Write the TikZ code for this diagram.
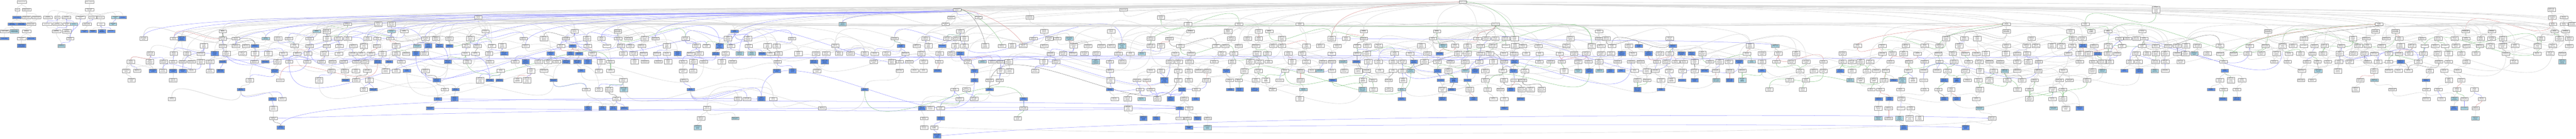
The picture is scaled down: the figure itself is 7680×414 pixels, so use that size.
\documentclass[tikz,border=0pt]{standalone}
\usepackage{fontspec}
\setmainfont{Liberation Sans}
\usetikzlibrary{arrows.meta}
\pgfdeclarelayer{bg}
\pgfsetlayers{bg,main}
\definecolor{cbl}{HTML}{6495ED}
\definecolor{lbl}{HTML}{ADD8E6}
\definecolor{bord}{HTML}{9A9A9A}
\definecolor{egc}{HTML}{DCDCDC}
\definecolor{ebc}{HTML}{9A9AFF}
\definecolor{eGc}{HTML}{8CC88C}
\definecolor{erc}{HTML}{E09A9A}
\definecolor{ekc}{HTML}{8A8A8A}
\tikzset{
 boxw/.style={draw=bord,fill=white,line width=0.22pt,inner sep=0.35pt,text width=0.2cm,align=center,minimum height=0.085cm,font=\fontsize{0.75}{0.85}\selectfont},
 boxb/.style={boxw,fill=cbl},
 boxl/.style={boxw,fill=lbl},
 boxW/.style={boxw,text width=0.24cm},
 boxWb/.style={boxW,fill=cbl},
 boxWl/.style={boxW,fill=lbl},
 edg/.style={draw=egc,line width=0.3pt,-{Stealth[length=0.9pt,width=0.8pt]}},
 edb/.style={draw=ebc,line width=0.22pt,-{Stealth[length=0.9pt,width=0.8pt]}},
 edG/.style={draw=eGc,line width=0.22pt,-{Stealth[length=0.9pt,width=0.8pt]}},
 edr/.style={draw=erc,line width=0.22pt,-{Stealth[length=0.9pt,width=0.8pt]}},
 edk/.style={draw=ekc,line width=0.22pt,-{Stealth[length=0.9pt,width=0.8pt]}},
}
\newcommand\imod[2]{\the\numexpr(#1)-((2*(#1)-(#2)+1)/(2*(#2)))*(#2)\relax}
\newcommand\pickA[1]{\ifcase\numexpr#1\relax edg\or edg\or edg\or edg\or edg\or edg\or edg\or edg\or edg\or edg\or edg\or edg\or edb\or edb\or edb\or edb\or edb\or edG\or edr\or edk\fi}
\newcommand\pickB[1]{\ifcase\numexpr#1\relax edg\or edg\or edg\or edg\or edg\or edg\or edg\or edg\or edg\or edg\or edg\or edg\or edg\or edg\or edG\or edG\or edr\or edk\or edb\or edg\fi}
\newcommand\lab[1]{\ifcase\numexpr#1\relax
regulation of cell migration\or
positive regulation of cell population proliferation\or
negative regulation of signal transduction\or
cell differentiation\or
tissue morphogenesis\or
regulation of developmental process\or
embryonic organ development\or
positive regulation of gene expression\or
regulation of cellular component organization\or
Wnt signaling pathway\or
cell-cell signaling\or
regulation of protein kinase activity\or
neuron projection development\or
epithelial tube morphogenesis\or
regulation of response to stimulus\or
positive regulation of transcription by RNA polymerase II\or
animal organ morphogenesis\or
regulation of cell adhesion\or
response to organic substance\or
non-canonical Wnt signaling pathway\or
regulation of macromolecule metabolic process\or
cell morphogenesis\or
positive regulation of cell communication\or
regulation of inflammatory response\or
tube development\or
negative regulation of cell population proliferation\or
regulation of phosphorylation\or
positive regulation of protein metabolic process\or
regulation of nervous system development\or
skeletal system development\or
cellular response to chemical stimulus\or
regulation of cell cycle\or
planar cell polarity pathway involved in neural tube closure\or
positive regulation of intracellular signal transduction\or
regulation of cytokine production\or
mesenchymal cell differentiation\or
regulation of anatomical structure morphogenesis\or
establishment of planar polarity\or
regulation of ossification\or
positive regulation of protein phosphorylation\or
regulation of primary metabolic process\or
cell surface receptor signaling pathway\or
regulation of hormone secretion\or
regulation of synapse organization\or
axon guidance\or
gland development\or
regulation of biosynthetic process\or
positive regulation of catalytic activity\or
lung development\or
cardiac muscle tissue development\or
negative regulation of apoptotic process\or
regulation of transport\or
heart morphogenesis\or
positive regulation of locomotion\or
response to wounding\or
regulation of epithelial cell proliferation\or
regulation of GTPase activity\or
hindbrain development\or
regulation of angiogenesis\or
cellular component assembly\fi}
\newcommand\setlab[2]{\expandafter\def\csname lbl#1\endcsname{#2}}
\setlab{4361-6}{biological\_process}
\setlab{2853-29}{developmental process}
\setlab{3350-29}{biological phase}
\setlab{6428-29}{biological process involved in interspecies interaction between organisms}
\setlab{1426-52}{anatomical structure development}
\setlab{3461-52}{multicellular organismal process}
\setlab{2836-52}{developmental maturation}
\setlab{2917-52}{developmental growth}
\setlab{4459-72}{cellular process}
\setlab{3875-72}{biological regulation}
\setlab{5982-72}{response to stimulus}
\setlab{7093-72}{metabolic process}
\setlab{2512-72}{multicellular organism development}
\makeatletter
\def\fn@scan#1/#2,{\ifnum#1<0 \expandafter\@gobble\else\expandafter\@firstofone\fi{\fn@test{#1}\fn@scan}}
\def\fn@test#1{\edef\dd{\the\numexpr#1-(\fn@target)\relax}\ifnum\dd<0 \edef\dd{\the\numexpr-\dd\relax}\fi
 \ifnum\dd<\bestd\relax\edef\best{\the\numexpr#1\relax}\edef\bestd{\dd}\fi}
\newcommand\findnear[2]{\edef\fn@target{#1}\def\best{-1}\def\bestd{9999}\expandafter\fn@scan#2,-1/x,}
\makeatother
\newcommand\placerow[2]{\foreach \x/\c in #2 {%
  \edef\k{\imod{\x*3+#1}{60}}%
  \node[box\c] (n\x-#1) at (\x,#1) {\ifcsname lbl\x-#1\endcsname\csname lbl\x-#1\endcsname\else\lab{\k}\fi};}}
\newcommand\linkrow[6]{\foreach \x/\c in #2 {%
  \findnear{\x}{#4}%
  \ifnum\bestd<250 \edef\pp{#3}\else
    \findnear{\x}{#6}%
    \ifnum\bestd<400 \edef\pp{#5}\else\def\pp{}\fi
  \fi
  \ifx\pp\empty\else
    \edef\ek{\imod{\x*7+#1*3}{20}}%
    \edef\es{\ifnum\x<3500 \pickA{\ek}\else\pickB{\ek}\fi}%
    \draw[\es] (n\x-#1.north) to[out=90,in=270] (n\best-\pp.south);
  \fi}}
\newcommand\linkshift[7]{\foreach \x/\c in #2 {%
  \ifnum\imod{\x*13}{#5}=0
    \findnear{\x+\imod{\x*37}{#6}-#6/2}{#4}%
    \ifnum\bestd<#7
      \edef\ek{\imod{\x*3+#1*7}{20}}%
      \edef\es{\ifnum\x<3500 \pickA{\ek}\else\pickB{\ek}\fi}%
      \draw[\es] (n\x-#1.north) to[out=90,in=270] (n\best-#3.south);
    \fi
  \fi}}
\def\fanstyle{edg}
\newcommand\fan[8]{\foreach \x/\c in #2 {%
  \ifnum\imod{\x}{#5}=#6 \ifnum\x>#7 \ifnum\x<#8
    \pgfmathsetmacro\dx{(\x-#4)*0.55}%
    \pgfmathsetmacro\hh{-(#1-6)*0.7}%
    \draw[\fanstyle] (n\x-#1.north) .. controls +(0,\hh) and +(\dx,14) .. (#3.south);
  \fi\fi\fi}}
% ---------------- rows ----------------
\def\RA{4361/w}
\def\RB{2853/w,3350/w,6428/w,7607/w}
\def\RC{1426/w,2836/w,2917/w,3070/w,3461/w,7609/w,7644/w}
\def\RD{1036/w,1128/w,1167/w,2512/l,2819/w,3542/w,3694/w,3875/w,4459/w,5982/w,6217/w,7093/w,7611/w,7644/w,7669/w}
\def\RE{664/w,944/l,974/w,1167/l,1205/w,1447/w,1713/w,1842/w,2190/b,2863/w,3113/w,3313/w,3549/w,3661/w,3753/w,3784/w,%
4066/w,4284/w,4767/w,5982/w,6173/w,6235/w,6285/w,6387/w,6762/w,7082/w,7142/w,7351/w,7429/w,7616/w,7649/w}
\def\RF{428/w,519/w,542/b,664/w,703/w,792/l,829/w,861/w,923/w,975/w,1009/w,1036/w,1096/w,1125/w,1163/w,1268/w,1300/w,%
1340/w,1402/w,1561/w,1622/w,1687/w,1750/w,1793/w,1843/w,1874/w,1922/w,1954/w,2044/w,2170/w,2230/w,2361/w,2667/w,2760/w,%
2824/w,2851/w,2875/w,3081/w,3128/w,3152/w,3188/l,3431/w,3486/w,3671/w,3720/w,3753/w,3822/w,3970/w,4013/w,4066/w,4272/w,%
4405/w,4431/w,4458/w,4489/w,4515/w,4682/w,4767/w,4789/w,4978/w,5802/w,5856/w,5895/w,6057/w,6180/w,6208/w,6319/w,6343/w,%
6369/w,6392/w,6869/w,7015/w,7054/w,7114/w,7153/w,7221/w,7269/w,7318/w,7352/w,7396/w,7428/w,7462/w,7576/w,7630/w,7660/w}
\def\RG{608/w,664/w,703/w,733/w,760/b,878/w,923/w,974/w,1012/w,1053/w,1085/w,1123/w,1181/w,1244/l,1277/b,1310/b,1340/b,%
1390/w,1423/w,1466/w,1497/w,1567/w,1672/w,1707/b,1752/w,1809/w,1851/w,1879/w,1913/w,1988/w,2076/w,2106/w,2145/b,2179/w,%
2232/w,2288/w,2315/w,2490/w,2686/b,2733/w,2768/w,2809/b,2848/w,2875/w,2937/w,2987/w,3017/w,3050/w,3113/w,3201/w,3244/w,%
3284/w,3313/w,3345/l,3431/w,3461/w,3519/w,3626/w,3653/w,3693/w,3744/w,3796/w,3822/w,3895/w,3936/w,3987/w,4046/w,4076/w,%
4110/w,4237/w,4302/l,4338/w,4375/w,4414/w,4451/w,4489/w,4517/w,4540/w,4587/w,4670/w,4745/w,4773/w,4806/w,4856/w,4886/b,%
4987/b,5217/w,5293/l,5538/w,5612/w,5682/w,5738/w,5782/w,5841/w,5982/w,6042/w,6070/w,6117/w,6145/w,6178/w,6210/b,6243/w,%
6285/w,6326/w,6386/w,6427/w,6464/w,6491/w,6517/w,6551/w,6618/w,6707/w,6754/w,6805/w,6836/w,6869/w,6900/w,6931/w,6980/w,%
7031/w,7058/w,7100/w,7157/w,7191/w,7229/w,7260/w,7289/w,7322/w,7353/w,7393/w,7425/w,7461/w,7498/w,7565/w,7610/w,7660/w}
\def\RH{449/w,518/w,558/w,599/w,640/b,675/w,723/w,760/w,800/w,844/w,886/w,918/w,967/w,1010/w,1052/w,1077/w,1106/w,1140/w,%
1181/w,1211/w,1240/b,1265/w,1388/w,1417/w,1458/w,1503/b,1642/b,1701/b,1726/b,1766/w,1858/w,1889/w,1919/w,1959/w,1988/w,%
2020/b,2059/w,2085/w,2134/b,2163/w,2205/l,2241/l,2272/b,2297/w,2321/w,2380/w,2433/w,2463/w,2501/w,2536/w,2578/w,2608/w,%
2643/w,2699/w,2747/w,2801/w,2836/w,2863/b,3132/w,3169/w,3199/w,3233/w,3269/w,3334/w,3370/w,3404/l,3504/w,3551/w,3643/w,%
3678/w,3747/w,3778/w,3841/w,3882/w,3970/w,4046/w,4075/w,4158/w,4204/w,4256/w,4292/b,4347/w,4375/w,4414/w,4442/w,4484/w,%
4514/w,4550/w,4590/w,4650/w,4693/w,4729/w,4773/w,4803/w,4835/b,4868/w,4915/b,4949/w,4978/w,5013/b,5043/b,5075/w,5208/w,%
5253/w,5302/w,5355/w,5493/w,5612/w,5642/w,5675/w,5717/w,5779/w,5822/w,5859/w,5892/w,5920/w,5980/w,6014/w,6043/w,6166/w,%
6200/w,6227/w,6254/b,6285/w,6312/w,6369/w,6401/w,6427/w,6455/w,6491/w,6515/w,6542/l,6581/w,6619/w,6659/w,6701/w,6742/w,%
6787/w,6824/w,6858/w,6894/w,6925/w,6975/w,7016/w,7049/w,7079/w,7122/w,7152/w,7182/w,7225/w,7267/w,7300/w,7338/w,7382/w,%
7471/w,7564/w,7603/w,7639/w}
\def\RI{390/w,447/w,488/w,516/w,544/w,571/w,599/w,626/w,664/b,758/w,791/b,827/w,862/w,916/w,958/w,991/w,1024/w,1063/w,%
1088/w,1126/b,1160/b,1196/w,1335/b,1393/w,1460/w,1536/w,1567/b,1606/w,1634/w,1660/w,1688/b,1721/b,1752/b,1792/w,1820/w,%
1892/w,1923/w,1963/w,1992/w,2036/w,2067/w,2098/w,2152/w,2184/w,2318/w,2426/b,2459/b,2605/w,2659/w,2682/w,2711/w,2754/w,%
2800/w,2885/w,2929/l,2958/w,2983/w,3007/w,3112/w,3148/w,3267/l,3309/w,3346/w,3488/w,3514/w,3546/w,3620/w,3673/w,3727/w,%
3755/w,3782/w,3852/w,3895/w,3944/w,3971/w,4004/l,4044/b,4079/w,4110/w,4153/w,4181/w,4215/b,4247/w,4285/w,4324/w,4368/w,%
4410/w,4452/w,4484/w,4515/b,4589/w,4623/w,4656/w,4705/w,4736/w,4767/w,4823/w,4863/w,4891/w,4940/w,4968/w,4996/w,5020/w,%
5052/w,5098/w,5127/w,5154/w,5185/b,5222/l,5253/w,5296/w,5341/w,5385/w,5436/w,5493/w,5521/w,5547/w,5575/w,5636/w,5691/w,%
5738/w,5782/w,5826/w,5869/w,5901/w,5931/w,5963/w,6014/w,6047/w,6078/w,6200/w,6240/w,6266/w,6290/w,6350/w,6375/w,6426/w,%
6455/w,6501/w,6629/w,6780/w,6820/w,6878/w,6909/w,6940/w,6973/w,7005/w,7058/w,7090/w,7122/w,7157/b,7210/w,7271/w,7300/w,%
7353/w,7495/w,7639/l}
\def\RJ{376/w,409/w,456/b,486/w,516/b,545/b,571/w,626/w,657/b,819/b,988/w,1028/w,1061/w,1095/w,1150/w,1181/w,1213/b,%
1268/w,1493/w,1583/w,1622/w,1733/b,1785/w,1820/w,2036/w,2066/w,2316/b,2363/b,2436/w,2682/w,2727/w,2753/w,2795/b,2905/b,%
2983/w,3010/w,3086/w,3309/w,3431/w,3461/w,3512/w,3544/w,3574/w,3599/w,3656/b,3710/w,3752/w,3831/w,3877/w,3911/w,3935/l,%
3971/w,4008/w,4050/w,4075/w,4113/w,4153/w,4181/w,4206/l,4286/b,4318/w,4369/l,4398/b,4428/w,4480/w,4512/b,4546/w,4663/w,%
4705/l,4738/b,4769/l,4801/b,4833/b,4873/w,4910/w,4935/w,4976/w,5016/w,5052/w,5082/b,5115/w,5157/w,5194/w,5253/b,5366/w,%
5408/w,5436/w,5486/b,5521/w,5566/w,5594/w,5622/w,5689/w,5735/w,5775/w,5806/w,5859/w,5903/w,5944/w,5977/l,6014/w,6077/w,%
6151/w,6238/w,6268/l,6333/b,6378/b,6424/l,6455/w,6633/b,6862/w,6912/l,6970/w,7078/w,7122/w,7151/w,7180/w,7244/w,7287/w,%
7327/w}
\def\RK{392/w,516/w,745/w,835/w,951/w,1030/b,1062/w,1101/w,1302/b,1431/w,1460/b,1489/b,1543/w,1571/w,1650/b,1858/w,%
2039/w,2905/b,2950/w,2980/w,3311/w,3390/w,3419/w,3471/b,3512/w,3544/w,3597/w,3666/w,3693/w,3744/w,3774/w,3815/w,3877/w,%
3973/b,4063/w,4093/w,4140/w,4183/w,4295/b,4334/b,4375/b,4428/w,4484/w,4515/w,4540/w,4882/w,4910/w,4952/w,4983/w,5015/b,%
5052/b,5117/l,5157/b,5194/l,5336/w,5384/w,5516/l,5547/w,5587/w,5617/w,5646/b,5671/l,5703/w,5735/w,5796/b,5834/b,5866/w,%
5898/w,5931/w,5984/w,6028/w,6066/w,6140/w,6170/w,6222/w,6618/w,6651/w,6684/w,6860/w,6893/w,7037/w,7079/l,7233/b,7301/w,%
7338/w}
\def\RL{718/b,1085/w,1113/b,1326/w,1358/b,1748/w,1785/w,1816/w,1860/l,2059/b,2578/b,2846/w,2881/w,2950/b,3309/b,3399/w,%
3431/w,3524/b,3566/w,3668/b,3695/b,3741/b,3794/w,3886/l,4062/l,4095/w,4141/w,4179/l,4300/w,4328/b,4382/w,4435/w,4473/w,%
4505/b,4536/w,4563/w,4596/w,4882/b,4952/b,5275/w,5375/w,5579/w,5606/w,5666/w,5738/w,5779/w,5817/w,5902/w,6015/w,6050/w,%
6120/w,6150/w,6592/b,6629/w,6669/w,7023/w,7133/w,7234/w,7269/w,7325/w,7377/w}
\def\RM{512/w,812/b,841/w,1305/b,1355/b,1838/w,2200/w,2227/w,2270/b,2305/w,2861/w,2904/w,3052/b,3323/w,3362/w,3403/l,%
3450/w,3490/b,3531/w,3565/b,3875/w,4179/b,4300/b,4393/b,4452/w,4485/w,4534/b,5601/b,5633/b,5668/w,5796/b,5833/b,5892/w,%
6050/w,6119/w,6150/w,6627/b,6669/b,7234/w,7279/w,7318/l,7347/w,7399/w}
\def\RN{815/w,1282/b,1753/b,1796/b,1828/b,1861/b,2108/w,2451/w,2748/b,2774/w,2804/w,3052/w,3363/w,3517/b,3545/w,4485/b,%
5600/w,5631/w,5667/w,5697/w,5902/l,6122/l,6159/w,6200/b,7316/b,7347/l,7381/w}
\def\RO{815/w,2090/w,2192/l,2755/w,2804/b,3034/w,3409/b,3447/b,3517/w,3541/w,3570/b,3601/w,5600/l,5631/w,5663/l,5693/w,%
5723/w,5939/w,7380/l}
\def\RP{837/b,2080/l,2755/w,2785/w,3545/b,3600/l,5676/b,5860/b}
\def\RQ{2794/b}
\begin{document}
\begin{tikzpicture}[x=0.01cm,y=-0.01cm]
\begin{pgfonlayer}{bg}\fill[white] (0,0) rectangle (7680,414);\end{pgfonlayer}
\useasboundingbox (0,0) rectangle (7680,414);
% ---- molecular function ----
\node[boxW] (m1) at (65,6) {molecular\_function};
\node[boxw,text width=0.12cm] (m2) at (52,29) {binding};
\node[boxW] (m3) at (79,29) {molecular function regulator activity};
\node[boxWb] (m4) at (50,52) {protein binding};
\node[boxW] (m5) at (79,52) {signaling receptor regulator activity};
\node[boxW] (m6) at (109,52) {molecular function activator activity};
\node[boxWb] (m7) at (36,72) {signaling receptor binding};
\node[boxWb] (m8) at (64,72) {protein domain specific binding};
\node[boxW] (m9) at (93,72) {signaling receptor activator activity};
\node[boxW] (m10) at (14,93) {G protein-coupled receptor binding};
\node[boxWl] (m11) at (43,93) {receptor tyrosine kinase-like orphan receptor binding};
\node[boxW] (m12) at (79,93) {receptor ligand activity};
\node[boxWb] (m13) at (13,115) {frizzled binding};
\node[boxW] (m14) at (64,115) {chemoattractant activity};
\node[boxWb] (m15) at (93,115) {cytokine activity};
\node[boxWb] (m16) at (64,137) {chemoattractant activity involved in axon guidance};
% ---- cellular component ----
\node[boxW] (c1) at (267,6) {cellular\_component};
\node[boxW] (c2) at (267,29) {cellular anatomical entity};
\node[boxW] (c3) at (143,52) {membrane-enclosed lumen};
\node[boxw,text width=0.14cm] (c4) at (171,52) {organelle};
\node[boxW] (c5) at (198,52) {intracellular anatomical structure};
\node[boxW] (c6) at (240,52) {endomembrane system};
\node[boxw] (c7) at (276,52) {cell periphery};
\node[boxw] (c8) at (300,52) {cell junction};
\node[boxl] (c9) at (344,52) {extracellular region};
\node[boxb] (c10) at (366,52) {cell surface};
\node[boxW] (c11) at (140,72) {organelle lumen};
\node[boxW] (c12) at (171,72) {membrane-bounded organelle};
\node[boxw] (c13) at (199,72) {intracellular organelle};
\node[boxl] (c14) at (220,72) {cytoplasm};
\node[boxW] (c15) at (259,72) {external encapsulating structure};
\node[boxw] (c16) at (301,72) {synapse};
\node[boxl] (c17) at (337,72) {extracellular space};
\node[boxW] (c18) at (168,93) {intracellular organelle lumen};
\node[boxW] (c19) at (199,93) {intracellular membrane-bounded organelle};
\node[boxb] (c20) at (252,93) {extracellular matrix};
\node[boxb] (c21) at (277,93) {glutamatergic synapse};
\node[boxb] (c22) at (304,93) {Schaffer collateral - CA1 synapse};
\node[boxb] (c23) at (331,93) {postsynapse};
\node[boxw] (c24) at (209,115) {endoplasmic reticulum};
\node[boxl] (c25) at (183,137) {endoplasmic reticulum lumen};
% ---- biological process rows ----
\placerow{6}{\RA}
\placerow{29}{\RB}
\placerow{52}{\RC}
\placerow{72}{\RD}
\placerow{93}{\RE}
\placerow{115}{\RF}
\placerow{137}{\RG}
\placerow{160}{\RH}
\placerow{184}{\RI}
\placerow{211}{\RJ}
\placerow{239}{\RK}
\placerow{267}{\RL}
\placerow{295}{\RM}
\placerow{323}{\RN}
\placerow{353}{\RO}
\placerow{380}{\RP}
\placerow{405}{\RQ}
\begin{pgfonlayer}{bg}
% MF edges
\foreach \a/\b in {m2/m1,m3/m1,m4/m2,m5/m3,m6/m3,m7/m4,m8/m4,m9/m5,m9/m6,m10/m7,m11/m7,m12/m9,m12/m7,m13/m10,m14/m12,m15/m12,m16/m14}
  \draw[edg] (\a.north) to[out=90,in=270] (\b.south);
% CC edges
\foreach \a/\b in {c2/c1,c3/c2,c4/c2,c5/c2,c6/c2,c7/c2,c8/c2,c9/c2,c10/c2,c11/c3,c12/c4,c13/c4,c15/c2,c16/c8,c18/c11,c19/c12,c19/c13,c20/c15,c21/c16,c22/c16,c24/c19,c25/c18}
  \draw[edg] (\a.north) to[out=90,in=270] (\b.south);
\foreach \a/\b in {c11/c4,c13/c5,c14/c5,c15/c7,c17/c9,c18/c13,c23/c16,c24/c14,c24/c6,c25/c24}
  \draw[edb] (\a.north) to[out=90,in=270] (\b.south);
% primary parents
\linkrow{29}{\RB}{6}{\RA}{6}{\RA}
\linkrow{52}{\RC}{29}{\RB}{29}{\RB}
\linkrow{72}{\RD}{52}{\RC}{29}{\RB}
\linkrow{93}{\RE}{72}{\RD}{52}{\RC}
\linkrow{115}{\RF}{93}{\RE}{72}{\RD}
\linkrow{137}{\RG}{115}{\RF}{93}{\RE}
\linkrow{160}{\RH}{137}{\RG}{115}{\RF}
\linkrow{184}{\RI}{160}{\RH}{137}{\RG}
\linkrow{211}{\RJ}{184}{\RI}{160}{\RH}
\linkrow{239}{\RK}{211}{\RJ}{184}{\RI}
\linkrow{267}{\RL}{239}{\RK}{211}{\RJ}
\linkrow{295}{\RM}{267}{\RL}{239}{\RK}
\linkrow{323}{\RN}{295}{\RM}{267}{\RL}
\linkrow{353}{\RO}{323}{\RN}{295}{\RM}
\linkrow{380}{\RP}{353}{\RO}{323}{\RN}
\linkrow{405}{\RQ}{380}{\RP}{353}{\RO}
% second parents (near)
\linkshift{115}{\RF}{93}{\RE}{2}{240}{150}
\linkshift{137}{\RG}{115}{\RF}{2}{240}{150}
\linkshift{160}{\RH}{137}{\RG}{2}{240}{150}
\linkshift{184}{\RI}{160}{\RH}{2}{240}{150}
\linkshift{211}{\RJ}{184}{\RI}{2}{240}{150}
\linkshift{239}{\RK}{211}{\RJ}{2}{240}{150}
\linkshift{267}{\RL}{239}{\RK}{2}{240}{150}
\linkshift{295}{\RM}{267}{\RL}{2}{240}{150}
% long parents
\linkshift{137}{\RG}{93}{\RE}{5}{1200}{250}
\linkshift{160}{\RH}{115}{\RF}{5}{1200}{250}
\linkshift{184}{\RI}{137}{\RG}{5}{1200}{250}
\linkshift{211}{\RJ}{160}{\RH}{5}{1200}{250}
\linkshift{239}{\RK}{184}{\RI}{5}{1200}{250}
\linkshift{267}{\RL}{211}{\RJ}{5}{1200}{250}
\linkshift{295}{\RM}{239}{\RK}{5}{1200}{250}
\linkshift{323}{\RN}{267}{\RL}{4}{1200}{300}
% fans to hubs
\def\fanstyle{edg}
\fan{72}{\RD}{n4361-6}{4361}{1}{0}{0}{8000}
\fan{93}{\RE}{n4361-6}{4361}{2}{0}{0}{8000}
\fan{115}{\RF}{n4361-6}{4361}{5}{0}{0}{8000}
\fan{93}{\RE}{n1426-52}{1426}{1}{0}{400}{2600}
\fan{137}{\RG}{n1426-52}{1426}{3}{2}{400}{2600}
\fan{160}{\RH}{n1426-52}{1426}{4}{2}{400}{2600}
\fan{115}{\RF}{n3875-72}{3875}{4}{3}{0}{8000}
\fan{137}{\RG}{n3875-72}{3875}{6}{3}{2000}{6000}
\fan{93}{\RE}{n3461-52}{3461}{3}{0}{2400}{4000}
\fan{137}{\RG}{n5982-72}{5982}{4}{0}{5400}{6600}
\fan{115}{\RF}{n4459-72}{4459}{3}{2}{3400}{5500}
\fan{137}{\RG}{n7093-72}{7093}{3}{1}{6500}{7700}
\fan{115}{\RF}{n5982-72}{5982}{3}{1}{5400}{6600}
\fan{115}{\RF}{n7093-72}{7093}{2}{0}{6500}{7700}
\def\fanstyle{edb}
\fan{115}{\RF}{n2853-29}{2853}{7}{1}{400}{2800}
\fan{137}{\RG}{n2853-29}{2853}{9}{1}{400}{2800}
\def\fanstyle{edG}
\fan{137}{\RG}{n4459-72}{4459}{9}{2}{3400}{5500}
% manual top edges
\draw[edg] (n2853-29.north) .. controls +(0,-15) and +(-500,6) .. (n4361-6.west);
\draw[edg] (n3350-29.north) .. controls +(0,-12) and +(-300,4) .. (n4361-6.west);
\draw[edg] (n6428-29.north) .. controls +(0,-15) and +(800,4) .. (n4361-6.east);
\draw[edg] (n3461-52.north) .. controls +(0,-25) and +(-250,8) .. (n4361-6.west);
\draw[edg] (n1426-52.north) .. controls +(0,-15) and +(-600,6) .. (n2853-29.west);
\draw[edb] (n2512-72.north) .. controls +(0,-25) and +(-150,8) .. (n2853-29.west);
\draw[edg] (n1036-72.north) .. controls +(0,-12) and +(-150,10) .. (n1426-52.south);
\draw[edg] (n1128-72.north) .. controls +(0,-10) and +(-100,10) .. (n1426-52.south);
\draw[edb] (n1167-72.north) .. controls +(0,-10) and +(-80,12) .. (n1426-52.south);
\draw[edr] (n3970-115.north) .. controls (3980,30) and (4100,8) .. (n4361-6.west);
\draw[edG] (n4515-115.north) .. controls (4500,40) and (4420,8) .. (n4361-6.east);
\draw[edr] (n3050-137.north) .. controls (3000,60) and (2900,30) .. (n2853-29.east);
\draw[edG] (n2987-137.north) .. controls (2950,60) and (2880,32) .. (n2853-29.east);
\draw[edk] (n2937-137.north) .. controls (2920,60) and (2880,28) .. (n2853-29.east);
\draw[edr] (n4405-115.north) to[out=90,in=240] (n4459-72.south);
\draw[edk] (n4431-115.north) to[out=90,in=260] (n4459-72.south);
\draw[edG] (n4489-115.north) to[out=90,in=300] (n4459-72.south);
\draw[edr] (n5538-137.north) .. controls (5600,90) and (5900,76) .. (n5982-72.west);
\draw[edG] (n5782-137.north) .. controls (5800,90) and (5930,80) .. (n5982-72.west);
\draw[edk] (n5802-115.north) .. controls (5850,95) and (5950,85) .. (n5982-72.south west);
\draw[edG] (n6659-160.north) .. controls (6700,100) and (7000,75) .. (n7093-72.west);
\draw[edr] (n6707-137.north) .. controls (6720,100) and (7000,78) .. (n7093-72.west);
\draw[edk] (n6869-115.north) .. controls (6900,95) and (7050,85) .. (n7093-72.south);
% long blue / gray edges
\draw[edb] (n664-184.north) .. controls (1500,170) and (3000,172) .. (n3404-160.south);
\draw[edb] (n1024-184.north) .. controls (2000,172) and (3800,170) .. (n4292-160.south);
\draw[edb] (n2929-184.north) .. controls (3500,172) and (4200,174) .. (n4835-160.south);
\draw[edb] (n4004-184.north) .. controls (4800,175) and (5800,178) .. (n6254-160.south);
\draw[edb] (n3970-115.east) .. controls (4600,120) and (5100,118) .. (n5293-137.north west);
\draw[edb] (n1282-323.east) .. controls (2000,330) and (3000,335) .. (n3517-323.west);
\draw[edb] (n815-353.east) .. controls (1800,320) and (3000,318) .. (n3517-323.west);
\draw[edb] (n1305-295.east) .. controls (2200,305) and (3300,300) .. (n3517-323.north west);
\draw[edb] (n3545-380.east) .. controls (4200,368) and (5500,370) .. (n5860-380.west);
\draw[edb] (n2794-405.east) .. controls (3500,340) and (5600,336) .. (n5939-353.west);
\draw[edg] (n2785-380.east) .. controls (3500,408) and (5500,405) .. (n5939-353.south);
\draw[edb] (n837-380.north) .. controls (850,300) and (1600,290) .. (n2270-295.west);
\end{pgfonlayer}
\end{tikzpicture}
\end{document}
